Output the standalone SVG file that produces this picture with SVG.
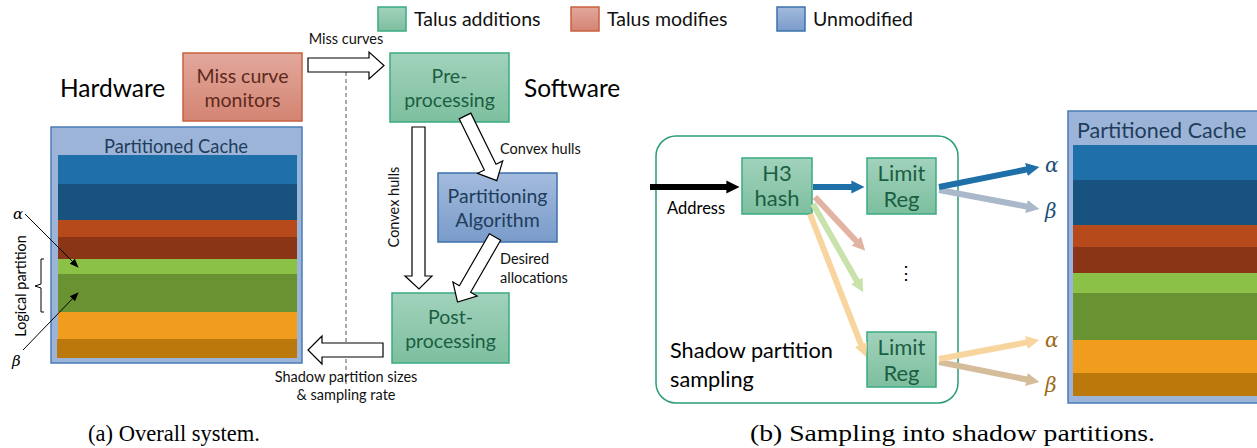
<svg xmlns="http://www.w3.org/2000/svg" width="1257" height="448" viewBox="0 0 1257 448">
<defs>
<linearGradient id="gG" x1="0" y1="0" x2="0" y2="1"><stop offset="0" stop-color="#a2d2bc"/><stop offset="1" stop-color="#7dbf9f"/></linearGradient>
<linearGradient id="gR" x1="0" y1="0" x2="0" y2="1"><stop offset="0" stop-color="#e2a89c"/><stop offset="1" stop-color="#d48472"/></linearGradient>
<linearGradient id="gB" x1="0" y1="0" x2="0" y2="1"><stop offset="0" stop-color="#a3bbdd"/><stop offset="1" stop-color="#7a9bca"/></linearGradient>
<marker id="mK" viewBox="0 0 10 10" refX="2" refY="5" markerWidth="2.2" markerHeight="2.4" orient="auto" markerUnits="strokeWidth"><path d="M0,0 L10,5 L0,10 Z" fill="#000"/></marker>
<marker id="mB" viewBox="0 0 10 10" refX="2" refY="5" markerWidth="2.2" markerHeight="2.4" orient="auto" markerUnits="strokeWidth"><path d="M0,0 L10,5 L0,10 Z" fill="#1f6fa8"/></marker>
<marker id="mGB" viewBox="0 0 10 10" refX="2" refY="5" markerWidth="2.2" markerHeight="2.4" orient="auto" markerUnits="strokeWidth"><path d="M0,0 L10,5 L0,10 Z" fill="#a9b9c9"/></marker>
<marker id="mR" viewBox="0 0 10 10" refX="2" refY="5" markerWidth="2.2" markerHeight="2.4" orient="auto" markerUnits="strokeWidth"><path d="M0,0 L10,5 L0,10 Z" fill="#e2b3a2"/></marker>
<marker id="mLG" viewBox="0 0 10 10" refX="2" refY="5" markerWidth="2.2" markerHeight="2.4" orient="auto" markerUnits="strokeWidth"><path d="M0,0 L10,5 L0,10 Z" fill="#c9e2ac"/></marker>
<marker id="mO" viewBox="0 0 10 10" refX="2" refY="5" markerWidth="2.2" markerHeight="2.4" orient="auto" markerUnits="strokeWidth"><path d="M0,0 L10,5 L0,10 Z" fill="#f8d59f"/></marker>
<marker id="mT" viewBox="0 0 10 10" refX="2" refY="5" markerWidth="2.2" markerHeight="2.4" orient="auto" markerUnits="strokeWidth"><path d="M0,0 L10,5 L0,10 Z" fill="#d5bd9b"/></marker>
<marker id="mSmall" viewBox="0 0 10 10" refX="9" refY="5" markerWidth="9" markerHeight="9" orient="auto" markerUnits="userSpaceOnUse"><path d="M0,1 L10,5 L0,9 Z" fill="#000"/></marker>
</defs>
<style>
text{font-family:Lato,"Liberation Sans",sans-serif}
.gbox{fill:url(#gG);stroke:#3aab82;stroke-width:1.5}
.rbox{fill:url(#gR);stroke:#c9603f;stroke-width:1.5}
.bbox{fill:url(#gB);stroke:#3d72ad;stroke-width:1.5}
.gt{fill:#1c5e42;font-size:19.5px;text-anchor:middle}
.rt{fill:#5c2a1c;font-size:19.5px;text-anchor:middle}
.bt{fill:#1f3d5c;font-size:19.5px;text-anchor:middle}
.gt2{fill:#1c5e42;font-size:22px;text-anchor:middle}
.big{fill:#000;font-size:24.5px}
.leg{fill:#111;font-size:19.5px}
.lab{fill:#111;font-size:14.5px}
.blk{fill:#fff;stroke:#000;stroke-width:1.2}
.cap{font-family:"Liberation Serif","DejaVu Serif",serif;font-size:24px;fill:#000}
.greek{font-family:"DejaVu Serif","Liberation Serif",serif;font-style:italic}
</style>
<rect width="1257" height="448" fill="#fff"/>

<g id="legend">
<rect x="378" y="7" width="28" height="24" class="gbox"/>
<text x="414" y="26" class="leg">Talus additions</text>
<rect x="571" y="7" width="28" height="24" class="rbox"/>
<text x="607" y="26" class="leg">Talus modifies</text>
<rect x="777" y="7" width="28" height="24" class="bbox"/>
<text x="813" y="26" class="leg">Unmodified</text>
</g>

<g id="labels-a">
<text x="60" y="97" class="big">Hardware</text>
<text x="524" y="97" class="big">Software</text>
</g>

<g id="miss-curve-monitors">
<rect x="183" y="53" width="119" height="68" class="rbox"/>
<text x="242.5" y="83" class="rt">Miss curve</text>
<text x="242.5" y="107" class="rt">monitors</text>
</g>

<g id="pre-processing">
<rect x="390" y="53" width="119" height="69" class="gbox"/>
<text x="449.5" y="83" class="gt">Pre-</text>
<text x="449.5" y="107" class="gt">processing</text>
</g>

<g id="partitioning-algorithm">
<rect x="438" y="173" width="119" height="69" class="bbox"/>
<text x="497.5" y="203" class="bt">Partitioning</text>
<text x="497.5" y="227" class="bt">Algorithm</text>
</g>

<g id="post-processing">
<rect x="392" y="293" width="117" height="70" class="gbox"/>
<text x="450.5" y="324" class="gt">Post-</text>
<text x="450.5" y="348" class="gt">processing</text>
</g>

<g id="partitioned-cache-a">
<rect x="51" y="127" width="251" height="236" fill="#9cb4d8" stroke="#4a7cb8" stroke-width="1.5"/>
<text x="176" y="153" font-size="18.3" fill="#1f3d5c" text-anchor="middle">Partitioned Cache</text>
<rect x="58" y="155" width="239" height="29" fill="#1f6fa8"/>
<rect x="58" y="184" width="239" height="36" fill="#17537e"/>
<rect x="58" y="220" width="239" height="17" fill="#b74a1a"/>
<rect x="58" y="237" width="239" height="22" fill="#8a3515"/>
<rect x="58" y="259" width="239" height="15" fill="#8bc147"/>
<rect x="58" y="274" width="239" height="38" fill="#699232"/>
<rect x="58" y="312" width="239" height="27" fill="#f09d1e"/>
<rect x="57" y="339" width="240" height="19" fill="#bb780b"/>
</g>

<g id="logical-partition">
<text x="13" y="219" class="greek" font-size="15" fill="#000">α</text>
<text x="12" y="366" class="greek" font-size="15" fill="#000">β</text>
<path d="M44,259 L41,259 L41,284 L35,286 L41,288 L41,312 L44,312" fill="none" stroke="#000" stroke-width="1"/>
<text transform="translate(26,286) rotate(-90)" font-size="14.4" fill="#000" text-anchor="middle">Logical partition</text>
</g>

<g id="connectors-a">
<line x1="346" y1="58" x2="346" y2="385" stroke="#555" stroke-width="1" stroke-dasharray="4,3"/>
<line x1="25" y1="214" x2="78" y2="267" stroke="#000" stroke-width="1" marker-end="url(#mSmall)"/>
<line x1="23" y1="350" x2="78" y2="293" stroke="#000" stroke-width="1" marker-end="url(#mSmall)"/>
<path class="blk" d="M308,58 L369,58 L369,52 L384,65.5 L369,79 L369,72 L308,72 Z"/>
<path class="blk" d="M383,343 L322,343 L322,336 L308,350 L322,364 L322,357 L383,357 Z"/>
<path class="blk" d="M412,127 L425,127 L425,276 L432,276 L419,289 L405,276 L412,276 Z"/>
<path class="blk" transform="translate(465,116) rotate(63.8)" d="M0,-6.5 L57,-6.5 L57,-14 L72,0 L57,14 L57,6.5 L0,6.5 Z"/>
<path class="blk" transform="translate(495,237) rotate(120)" d="M0,-6.5 L60,-6.5 L60,-14 L75,0 L60,14 L60,6.5 L0,6.5 Z"/>
<text x="346" y="44" class="lab" text-anchor="middle">Miss curves</text>
<text x="500" y="154" class="lab">Convex hulls</text>
<text transform="translate(399,207) rotate(-90)" class="lab" text-anchor="middle">Convex hulls</text>
<text x="500" y="264" class="lab">Desired</text>
<text x="500" y="283" class="lab">allocations</text>
<text x="346" y="382" class="lab" text-anchor="middle">Shadow partition sizes</text>
<text x="346" y="400" class="lab" text-anchor="middle">&amp; sampling rate</text>
</g>

<g id="sampling-box">
<rect x="656" y="136" width="302" height="267" rx="20" ry="20" fill="none" stroke="#2a9d78" stroke-width="1.5"/>
<text x="670" y="358" font-size="21.7" fill="#000">Shadow partition</text>
<text x="670" y="387" font-size="21.7" fill="#000">sampling</text>
<text x="906" y="279" font-size="18" fill="#000" text-anchor="middle">⋮</text>
</g>

<g id="h3-hash">
<rect x="742" y="158" width="70" height="56" class="gbox"/>
<text x="777" y="181" class="gt2">H3</text>
<text x="777" y="206" class="gt2">hash</text>
</g>

<g id="limit-reg-1">
<rect x="867" y="158" width="69" height="56" class="gbox"/>
<text x="901.5" y="181" class="gt2">Limit</text>
<text x="901.5" y="207" class="gt2">Reg</text>
</g>

<g id="limit-reg-2">
<rect x="867" y="332" width="69" height="55" class="gbox"/>
<text x="901.5" y="355" class="gt2">Limit</text>
<text x="901.5" y="381" class="gt2">Reg</text>
</g>

<g id="partitioned-cache-b">
<rect x="1068" y="111" width="200" height="292" fill="#9cb4d8" stroke="#4a7cb8" stroke-width="1.5"/>
<text x="1077" y="138" font-size="21.5" fill="#1f3d5c">Partitioned Cache</text>
<rect x="1073" y="145" width="190" height="35" fill="#1f6fa8"/>
<rect x="1073" y="180" width="190" height="45" fill="#17537e"/>
<rect x="1073" y="225" width="190" height="22" fill="#b74a1a"/>
<rect x="1073" y="247" width="190" height="26" fill="#8a3515"/>
<rect x="1073" y="273" width="190" height="20" fill="#8bc147"/>
<rect x="1073" y="293" width="190" height="47" fill="#699232"/>
<rect x="1073" y="340" width="190" height="33" fill="#f09d1e"/>
<rect x="1073" y="373" width="190" height="23" fill="#bb780b"/>
</g>

<g id="greek-b">
<text x="1045" y="172" class="greek" font-size="20" fill="#1f4e79">α</text>
<text x="1045" y="218" class="greek" font-size="20" fill="#1f4e79">β</text>
<text x="1045" y="347" class="greek" font-size="20" fill="#9c6a1a">α</text>
<text x="1045" y="392" class="greek" font-size="20" fill="#9c6a1a">β</text>
</g>

<g id="connectors-b">
<line x1="650" y1="187" x2="729" y2="187" stroke="#000" stroke-width="6" marker-end="url(#mK)"/>
<text x="667" y="214" font-size="16.5" fill="#000">Address</text>
<line x1="813" y1="187" x2="854" y2="187" stroke="#1f6fa8" stroke-width="6" marker-end="url(#mB)"/>
<line x1="815" y1="197" x2="858" y2="243" stroke="#e2b3a2" stroke-width="6" marker-end="url(#mR)"/>
<line x1="813" y1="204" x2="858" y2="283" stroke="#c9e2ac" stroke-width="6" marker-end="url(#mLG)"/>
<line x1="810" y1="214" x2="862" y2="347" stroke="#f8d59f" stroke-width="6" marker-end="url(#mO)"/>
<line x1="939" y1="190" x2="1029" y2="207" stroke="#a9b9c9" stroke-width="6" marker-end="url(#mGB)"/>
<line x1="939" y1="187" x2="1029" y2="169" stroke="#1f6fa8" stroke-width="6" marker-end="url(#mB)"/>
<line x1="939" y1="362" x2="1029" y2="380" stroke="#d5bd9b" stroke-width="6" marker-end="url(#mT)"/>
<line x1="939" y1="359" x2="1029" y2="342" stroke="#f8d59f" stroke-width="6" marker-end="url(#mO)"/>
</g>

<g id="captions">
<text x="88" y="441" class="cap" textLength="172" lengthAdjust="spacingAndGlyphs">(a) Overall system.</text>
<text x="750" y="441" class="cap" textLength="405" lengthAdjust="spacingAndGlyphs">(b) Sampling into shadow partitions.</text>
</g>
</svg>
